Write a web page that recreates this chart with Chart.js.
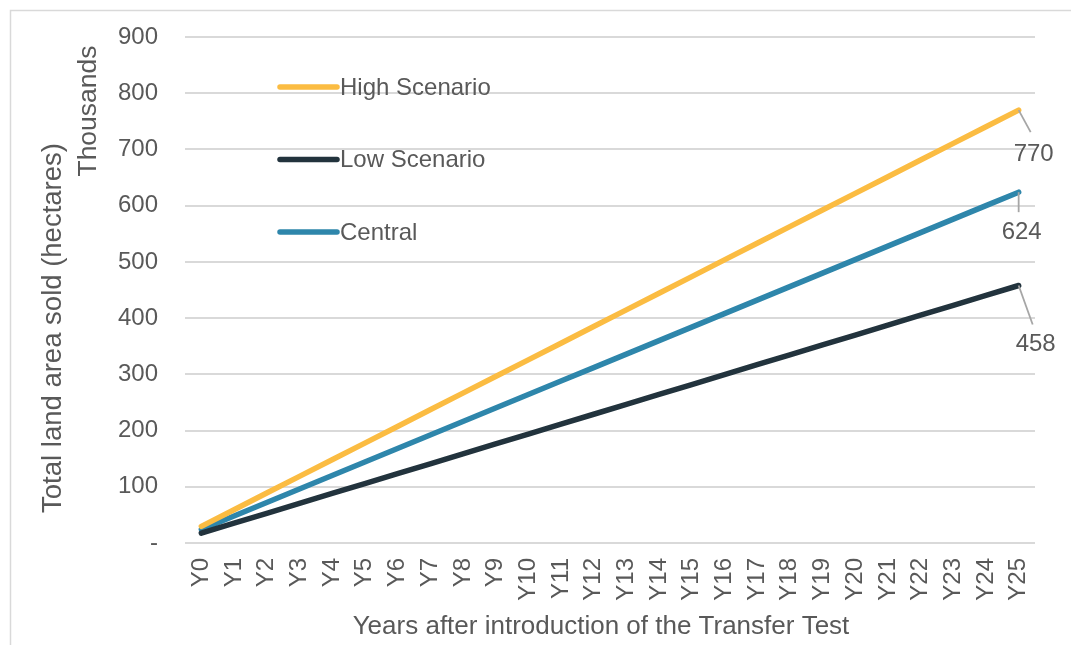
<!DOCTYPE html>
<html>
<head>
<meta charset="utf-8">
<title>Total land area sold</title>
<script src="https://cdn.jsdelivr.net/npm/chart.js@4.4.1/dist/chart.umd.min.js"></script>
<style>
  html, body { margin: 0; padding: 0; background: #ffffff; }
  #wrap { width: 1071px; height: 645px; }
</style>
</head>
<body>
<div id="wrap"><canvas id="chart" width="1071" height="645"></canvas></div>
<script>
// Years after the Transfer Test is introduced
const years = ['Y0','Y1','Y2','Y3','Y4','Y5','Y6','Y7','Y8','Y9','Y10','Y11','Y12',
  'Y13','Y14','Y15','Y16','Y17','Y18','Y19','Y20','Y21','Y22','Y23','Y24','Y25'];

// Cumulative land area sold, thousand hectares
const highScenario = [29.6, 59.2, 88.8, 118.5, 148.1, 177.7, 207.3, 236.9, 266.5, 296.2,
  325.8, 355.4, 385.0, 414.6, 444.2, 473.8, 503.5, 533.1, 562.7, 592.3, 621.9, 651.5,
  681.2, 710.8, 740.4, 770];
const lowScenario = [17.6, 35.2, 52.8, 70.5, 88.1, 105.7, 123.3, 140.9, 158.5, 176.2,
  193.8, 211.4, 229.0, 246.6, 264.2, 281.8, 299.5, 317.1, 334.7, 352.3, 369.9, 387.5,
  405.2, 422.8, 440.4, 458];
const centralScenario = [24, 48, 72, 96, 120, 144, 168, 192, 216, 240, 264, 288, 312,
  336, 360, 384, 408, 432, 456, 480, 504, 528, 552, 576, 600, 624];

const seriesNames = ['High Scenario', 'Low Scenario', 'Central'];

// Value axis tick labels (0 shown as a dash)
const yTickLabels = ['-', '100', '200', '300', '400', '500', '600', '700', '800', '900'];

const xTitle = 'Years after introduction of the Transfer Test';
const yTitle = 'Total land area sold (hectares)';
const unitLabel = 'Thousands';

const TEXT = '#595959';
const GRID = '#d9d9d9';
const FONT = '"Liberation Sans", Arial, sans-serif';

// Light frame around the chart (top and left edges visible)
const framePlugin = {
  id: 'frame',
  beforeDraw(chart) {
    const c = chart.ctx;
    c.save();
    c.fillStyle = '#ffffff';
    c.fillRect(0, 0, chart.width, chart.height);
    c.strokeStyle = GRID;
    c.lineWidth = 1.5;
    c.beginPath();
    c.moveTo(10.5, chart.height + 2);
    c.lineTo(10.5, 10.5);
    c.lineTo(chart.width + 2, 10.5);
    c.stroke();
    c.restore();
  }
};

// Axis titles and display-unit label
const titlesPlugin = {
  id: 'titles',
  afterDraw(chart) {
    const c = chart.ctx;
    c.save();
    c.fillStyle = TEXT;
    c.textAlign = 'center';
    c.textBaseline = 'alphabetic';
    c.font = '26px ' + FONT;
    c.fillText(xTitle, 601, 634);

    c.save();
    c.font = '27.5px ' + FONT;
    c.translate(61, 328);
    c.rotate(-Math.PI / 2);
    c.fillText(yTitle, 0, 0);
    c.restore();

    c.save();
    c.font = '26.5px ' + FONT;
    c.translate(96, 111);
    c.rotate(-Math.PI / 2);
    c.fillText(unitLabel, 0, 0);
    c.restore();
    c.restore();
  }
};

// Legend drawn inside the plot area, one entry per row
const insideLegendPlugin = {
  id: 'insideLegend',
  afterDraw(chart, args, opts) {
    const c = chart.ctx;
    const a = chart.chartArea;
    c.save();
    c.font = '24px ' + FONT;
    c.textAlign = 'left';
    c.textBaseline = 'middle';
    chart.data.datasets.forEach((ds, i) => {
      const y = a.top + opts.firstRow + i * opts.rowGap;
      const x0 = a.left + opts.lineStart;
      const x1 = a.left + opts.lineEnd;
      c.strokeStyle = ds.borderColor;
      c.lineWidth = 5.5;
      c.lineCap = 'round';
      c.beginPath();
      c.moveTo(x0, y);
      c.lineTo(x1, y);
      c.stroke();
      c.fillStyle = TEXT;
      c.fillText(ds.label, x1 + 3, y + 1);
    });
    c.restore();
  }
};

// Value label for the last point of each series, with a leader line
const endLabelPlugin = {
  id: 'endLabels',
  afterDatasetsDraw(chart, args, opts) {
    const c = chart.ctx;
    c.save();
    c.font = '24px ' + FONT;
    c.textAlign = 'center';
    c.textBaseline = 'middle';
    chart.data.datasets.forEach((ds, i) => {
      const meta = chart.getDatasetMeta(i);
      const last = meta.data.length - 1;
      const pt = meta.data[last];
      const o = opts.offsets[i];
      c.strokeStyle = '#a6a6a6';
      c.lineWidth = 1.8;
      c.beginPath();
      c.moveTo(pt.x, pt.y);
      c.lineTo(pt.x + o.lx, pt.y + o.ly);
      c.stroke();
      c.fillStyle = TEXT;
      c.fillText(String(ds.data[last]), pt.x + o.tx, pt.y + o.ty);
    });
    c.restore();
  }
};

const seriesColors = ['#fbbc42', '#22333d', '#2e86ab'];
const seriesData = [highScenario, lowScenario, centralScenario];

new Chart(document.getElementById('chart'), {
  type: 'line',
  data: {
    labels: years,
    datasets: seriesNames.map((name, i) => ({
      label: name,
      data: seriesData[i],
      borderColor: seriesColors[i],
      backgroundColor: seriesColors[i],
      borderWidth: 5.5,
      borderCapStyle: 'round',
      borderJoinStyle: 'round',
      pointRadius: 0,
      pointHoverRadius: 0,
      tension: 0,
      fill: false
    }))
  },
  options: {
    responsive: false,
    animation: false,
    events: [],
    layout: { padding: { left: 0, top: 37, right: 36, bottom: 0 } },
    plugins: {
      legend: { display: false },
      tooltip: { enabled: false },
      insideLegend: { firstRow: 50, rowGap: 72.5, lineStart: 95, lineEnd: 152 },
      endLabels: {
        offsets: [
          { lx: 12, ly: 22, tx: 15, ty: 44 },
          { lx: 14, ly: 39, tx: 17, ty: 59 },
          { lx: 0, ly: 20, tx: 3, ty: 40 }
        ]
      }
    },
    scales: {
      x: {
        type: 'category',
        offset: true,
        grid: { display: false, drawTicks: false },
        border: { display: false },
        afterFit(scale) { scale.height = 102; },
        ticks: {
          autoSkip: false,
          maxRotation: 90,
          minRotation: 90,
          padding: 15,
          color: TEXT,
          font: { family: FONT, size: 24 }
        }
      },
      y: {
        min: 0,
        max: 900,
        afterFit(scale) {
          scale.width = 185;
          scale.paddingTop = 0;
          scale.paddingBottom = 0;
        },
        grid: { color: GRID, lineWidth: 2, drawTicks: false },
        border: { display: false },
        ticks: {
          stepSize: 100,
          padding: 27,
          color: TEXT,
          font: { family: FONT, size: 24 },
          callback(value, index) { return yTickLabels[index]; }
        }
      }
    }
  },
  plugins: [framePlugin, titlesPlugin, insideLegendPlugin, endLabelPlugin]
});
</script>
</body>
</html>
